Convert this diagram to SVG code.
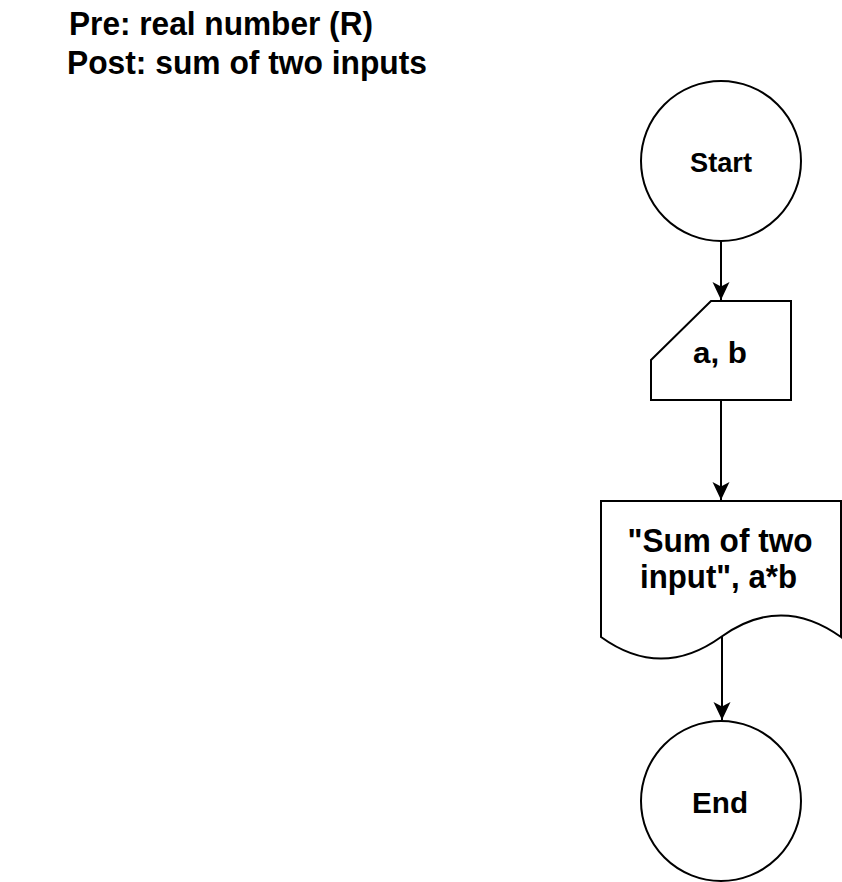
<svg xmlns="http://www.w3.org/2000/svg" width="842" height="882" viewBox="0 0 842 882">
<style>
.shape{fill:#ffffff;stroke:#000000;stroke-width:2}
.conn{fill:none;stroke:#000000;stroke-width:2}
text{font-family:"Liberation Sans",Arial,sans-serif;font-weight:bold;fill:#000000}
.c{text-anchor:middle}
</style>
<defs>
<marker id="arr" markerUnits="userSpaceOnUse" markerWidth="20" markerHeight="20" viewBox="0 0 20 20" refX="18" refY="10" orient="auto">
<path d="M18,10 L0,1.5 L4.5,10 L0,18.5 Z" fill="#000000"/>
</marker>
</defs>
<rect width="842" height="882" fill="#ffffff"/>
<g id="header">
<text x="69" y="35" font-size="34" textLength="304" lengthAdjust="spacingAndGlyphs">Pre: real number (R)</text>
<text x="67" y="74" font-size="34" textLength="360" lengthAdjust="spacingAndGlyphs">Post: sum of two inputs</text>
</g>
<g id="connectors">
<path class="conn" d="M721,242 L721,300" marker-end="url(#arr)"/>
<path class="conn" d="M721,400 L721,500" marker-end="url(#arr)"/>
<path class="conn" d="M722,637 L722,720" marker-end="url(#arr)"/>
</g>
<g id="start">
<circle class="shape" cx="721" cy="161" r="80"/>
<text class="c" x="721" y="172" font-size="27.5" textLength="62" lengthAdjust="spacingAndGlyphs">Start</text>
</g>
<g id="input">
<polygon class="shape" points="651,360 711,301 791,301 791,400 651,400"/>
<text class="c" x="720" y="363" font-size="29" textLength="54" lengthAdjust="spacingAndGlyphs">a, b</text>
</g>
<g id="output">
<path class="shape" d="M601,501 L841,501 L841,637 Q781,593.8 721,637 Q661,680.2 601,637 Z"/>
<text class="c" x="720" y="552" font-size="33" textLength="185" lengthAdjust="spacingAndGlyphs">"Sum of two</text>
<text class="c" x="718.5" y="588" font-size="33" textLength="157" lengthAdjust="spacingAndGlyphs">input", a*b</text>
</g>
<g id="end">
<circle class="shape" cx="721" cy="801" r="80"/>
<text class="c" x="720" y="813" font-size="30" textLength="56" lengthAdjust="spacingAndGlyphs">End</text>
</g>
</svg>
